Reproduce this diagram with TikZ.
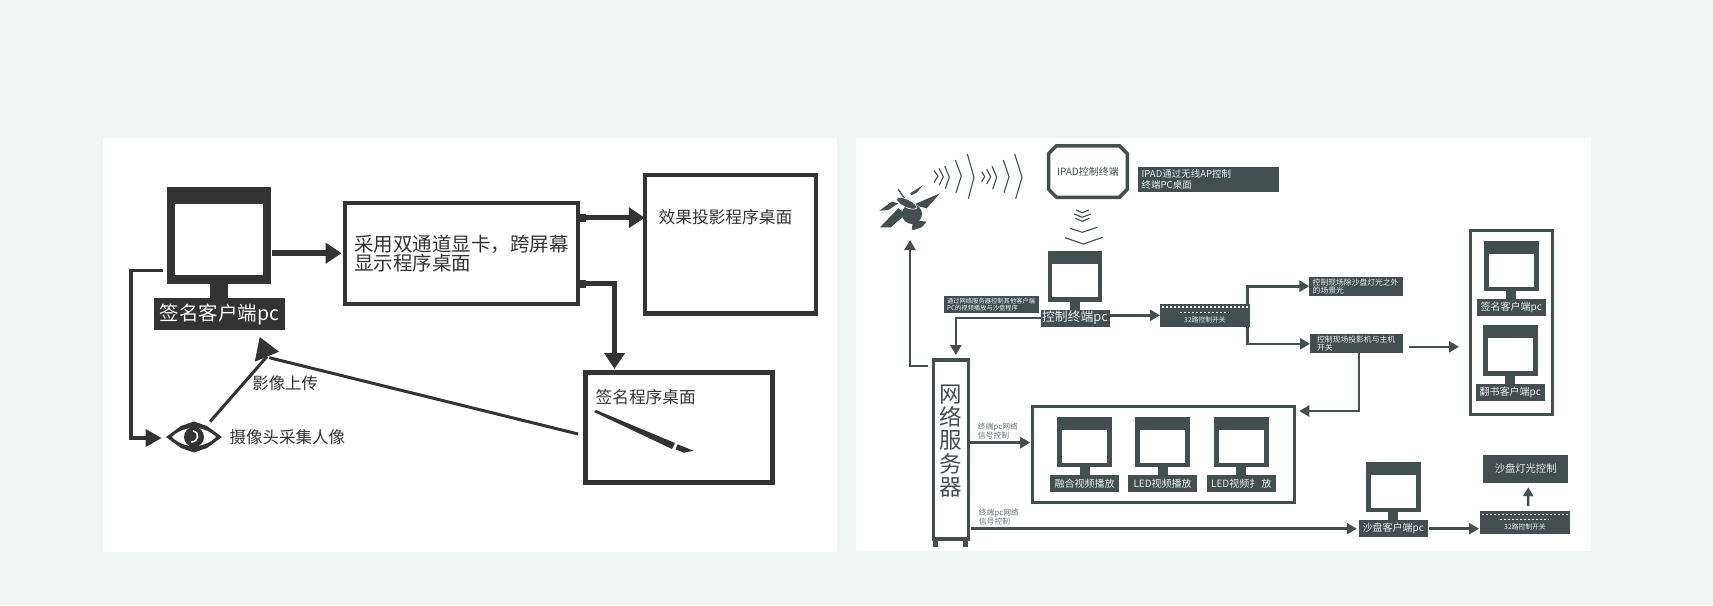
\documentclass[tikz,border=0pt]{standalone}
\usepackage{fontspec}
\setmainfont{Noto Sans CJK SC}
\usepackage{xcolor}
\usetikzlibrary{arrows.meta,calc,shapes.misc}
\definecolor{PageGray}{RGB}{241,245,244}
\definecolor{InkDark}{RGB}{51,51,51}
\definecolor{InkSlate}{RGB}{67,78,79}
\definecolor{NoteGray}{RGB}{105,115,116}
\definecolor{PaleText}{RGB}{236,240,240}
\tikzset{
  panel/.style={fill=white,draw=none},
  bigbox/.style={draw=InkDark,line width=4pt,fill=white,inner sep=0pt,outer sep=0pt},
  solidL/.style={fill=InkDark,draw=none,inner sep=0pt,outer sep=0pt},
  solidR/.style={fill=InkSlate,draw=none,inner sep=0pt,outer sep=0pt},
  blank/.style={fill=white,draw=none,inner sep=0pt,outer sep=0pt},
  bigtext/.style={text=InkDark,inner sep=0pt,outer sep=0pt,anchor=west},
  framebox/.style={draw=InkSlate,line width=3pt,fill=white,inner sep=0pt,outer sep=0pt},
  darklabel/.style={solidR,text=PaleText,align=left,inner ysep=0pt},
  marknote/.style={text=NoteGray,inner sep=0pt,anchor=west,align=left,
    font=\fontsize{7.8}{8}\selectfont},
  heavyarrow/.style={-{Triangle[length=16pt,width=20pt]},line width=6.5pt,draw=InkDark},
  heavystub/.style={line width=8pt,draw=InkDark},
  slimarrow/.style={-{Triangle[length=16pt,width=17pt]},line width=3.5pt,draw=InkDark},
  sharpline/.style={line width=3pt,draw=InkDark},
  flowarrow/.style={-{Triangle[length=10pt,width=11pt]},line width=2.6pt,draw=InkSlate},
  wavepen/.style={line width=1.1pt,draw=InkSlate},
}
% one small monitor: top left corner of the casing, then the caption
\newcommand{\pcunit}[4]{%
  \node[solidR,anchor=north west,minimum width=54.6pt,minimum height=50.2pt] (#1) at (#2,#3) {};
  \node[blank,minimum width=45.4pt,minimum height=33pt] (#1scr) at ($(#1.center)+(0,4.4)$) {};
  \node[solidR,anchor=north,minimum width=10pt,minimum height=8pt] (#1foot) at (#1.south) {};
  \node[solidR,text=PaleText,anchor=north,minimum width=69pt,minimum height=17pt,
    font=\fontsize{10}{11}\selectfont] (#1lbl) at (#1foot.south) {#4};
}
% switch block with its two rows of dots
\newcommand{\switchbar}[3]{%
  \node[solidR,text=PaleText,anchor=north west,minimum width=90pt,minimum height=22.6pt] (#1) at (#2,#3) {};
  \draw[white,line width=1.5pt,dash pattern=on 1.6pt off 2.4pt]
    ($(#1.north west)+(2,3)$) -- ($(#1.north east)+(-1,3)$);
  \draw[white,line width=1.5pt,dash pattern=on 1.6pt off 2.4pt]
    ($(#1.north)+(-25,8.3)$) -- ($(#1.north)+(24,8.3)$);
  \node[text=PaleText,inner sep=0pt,font=\fontsize{6.8}{7}\selectfont] (#1txt) at ($(#1.north)+(0,16)$) {32路控制开关};
}
\begin{document}
\begin{tikzpicture}[x=1pt,y=-1pt]
\useasboundingbox (0,0) rectangle (1713,605);
\fill[PageGray] (0,0) rectangle (1713,605);
\fill[panel] (102.5,138) rectangle (837,552);
\fill[panel] (855.5,138) rectangle (1591,551);

% left panel
\node[solidL,minimum width=104.2pt,minimum height=97pt] (monL) at (218.7,235.5) {};
\node[blank,minimum width=87.7pt,minimum height=71pt] (monLscr) at (219.2,239.5) {};
\node[solidL,minimum width=18pt,minimum height=14pt] (monLfoot) at (219,291) {};
\node[solidL,text=white,minimum width=131pt,minimum height=32pt,
  font=\fontsize{19.5}{20}\selectfont] (monLlbl) at (219.5,314) {签名客户端pc};
\node[bigbox,minimum width=232.6pt,minimum height=101pt,text width=214.6pt,inner xsep=9pt,
  align=left,text=InkDark,font=\fontsize{19.5}{19}\selectfont] (dual) at (461.3,253.2)
  {采用双通道显卡，跨屏幕\\显示程序桌面};
\node[bigbox,line width=4.5pt,minimum width=171.4pt,minimum height=138.8pt] (effect) at (730.5,244.3) {};
\node[bigtext,font=\fontsize{16.7}{17}\selectfont] (effecttxt) at (658.6,216.7) {效果投影程序桌面};
\node[bigbox,line width=5pt,minimum width=187.9pt,minimum height=110pt] (sign) at (679,427.5) {};
\node[bigtext,font=\fontsize{16.7}{17}\selectfont] (signtxt) at (595.6,396.7) {签名程序桌面};
\fill[InkDark] (594,412) -- (596,410) -- (675,443) -- (672,449) -- cycle;
\fill[InkDark] (677.5,444.3) -- (693.5,450.7) -- (683.8,452.7) -- (675.6,449.3) -- cycle;
\node[bigtext,font=\fontsize{16.5}{17}\selectfont] (eyetxt) at (229.6,437) {摄像头采集人像};
\node[bigtext,font=\fontsize{16.4}{17}\selectfont] (uptxt) at (252.4,383) {影像上传};

% eye
\coordinate (eye) at (194,437);
\fill[InkDark] ($(eye)+(-28,0)$) -- ($(eye)+(-13,-11)$) -- ($(eye)+(0,-15.5)$) -- ($(eye)+(13,-11)$)
  -- ($(eye)+(28,0)$) -- ($(eye)+(13,11)$) -- ($(eye)+(0,15.5)$) -- ($(eye)+(-13,11)$) -- cycle;
\fill[white] ($(eye)+(-22,0)$) .. controls ($(eye)+(-10,-12)$) and ($(eye)+(10,-12)$) .. ($(eye)+(22,0)$)
  .. controls ($(eye)+(10,12)$) and ($(eye)+(-10,12)$) .. cycle;
\fill[InkDark] (eye) circle (10);
\draw[white,line width=1.6pt] ($(eye)+(-1,-6)$) .. controls ($(eye)+(6,-5)$) and ($(eye)+(5,5)$) .. ($(eye)+(-3,5)$);

\coordinate (eyeup) at (210,421.7);
\coordinate (uptip) at (259.7,337);
\coordinate (upleft) at (254.8,361.7);
\coordinate (upright) at (279,351.7);
\coordinate (upjoin) at (269.3,357.7);
\coordinate (eyein) at (161.7,438);

\draw[heavyarrow,shorten <=1.5pt,shorten >=3.4pt] (monL.east |- dual.west) -- (dual.west);
\draw[heavystub] ($(dual.east)+(0,-35.5)$) -- ++(8,0);
\draw[heavyarrow,line width=5.5pt] ($(dual.east)+(0,-35.5)$) -- ($(effect.west)+(0,-26.6)$);
\draw[heavystub] ($(dual.east)+(0,30.3)$) -- ++(8,0);
\draw[heavyarrow,line width=5.5pt,shorten >=3.5pt] ($(dual.east)+(0,30.3)$) -| ($(sign.north)+(-64.5,0)$);
\draw[slimarrow] ($(monL.west)+(-3.9,35.2)$) -- ++(-31.8,0) |- (eyein);
\draw[sharpline] (eyeup) -- ($(upleft)!0.5!(upright)$);
\fill[InkDark] (uptip) -- (upright) -- (upleft) -- cycle;
\draw[sharpline] ($(sign.west)+(-7,6.5)$) -- (upjoin);

% right panel
\node[draw=InkSlate,line width=3.5pt,fill=white,chamfered rectangle,chamfered rectangle xsep=4pt,
  chamfered rectangle ysep=4pt,inner sep=0pt,outer sep=0pt,minimum width=78.8pt,minimum height=51.5pt,
  text=InkSlate,font=\fontsize{10}{11}\selectfont] (ipad) at (1087.9,171.5) {IPAD控制终端};
\node[darklabel,minimum width=141pt,minimum height=24.7pt,text width=133.6pt,inner xsep=3.7pt,
  font=\fontsize{9.5}{11}\selectfont] (ipadnote) at (1208.5,179.35) {IPAD通过无线AP控制\\终端PC桌面};

% satellite and waves
\coordinate (sat) at (912,214);
\fill[InkSlate] (sat) circle (10);
\fill[InkSlate] (915,204) -- (940,193.3) -- (926.7,208.3) -- (920,206.7) -- cycle;
\fill[InkSlate] (880,227.3) -- (898.3,208.3) -- (906,214) -- (890.7,227.3) -- cycle;
\fill[InkSlate] (910,193.3) -- (923.3,185) -- (916.7,192.7) -- (911.7,195) -- cycle;
\fill[InkSlate] (879.3,210.7) -- (891.7,201.7) -- (898.3,203.3) -- (888.3,210) -- cycle;
\fill[InkSlate] (911.7,229.3) -- (912.7,223.3) -- (918.3,220.7) -- (926.7,221.7) -- (921.7,227.3) -- (913.3,230) -- cycle;
\draw[InkSlate,line width=1.3pt] (898.3,189.3) -- (905,199.3);
\draw[white,fill=InkSlate,line width=0.7pt,rotate around={-25:(906.7,203.3)}] (906.7,203.3) ellipse (11 and 4);
\draw[wavepen] (934,170.7) -- (938,176) -- (934,182.7)
  (939,168.3) -- (943.3,176.7) -- (939.3,185)
  (944.7,166) -- (949.3,177.3) -- (945.3,188.7)
  (955.3,160) -- (961.3,176) -- (956,192.7)
  (967.3,154) -- (974,177.3) -- (968.3,198.7)
  (981.7,171.7) -- (984.7,176.7) -- (981.7,181.7)
  (986.7,169.3) -- (990.7,176.7) -- (986.7,184)
  (992,166) -- (996.7,177.3) -- (992.7,189.3)
  (1003.3,160) -- (1009,176.7) -- (1004,192.7)
  (1014.7,154) -- (1022,177.3) -- (1015.7,198.7);
\draw[wavepen] (1076,210) -- (1082.3,212.7) -- (1088.7,210)
  (1074,214) -- (1082.3,217.3) -- (1090.7,214)
  (1075.3,218.3) -- (1082.3,221.3) -- (1089.3,218.3)
  (1070,228.3) -- (1082.3,232.3) -- (1097.3,227.3)
  (1065,237.7) -- (1083.3,244) -- (1102.7,237.3);

\pcunit{ctrl}{1047.7}{251.3}{\fontsize{12.8}{14}\selectfont 控制终端pc}
\node[darklabel,minimum width=95pt,minimum height=17.6pt,text width=89.6pt,inner xsep=2.7pt,
  font=\fontsize{6.3}{7.6}\selectfont] (servernote) at (991.8,304.5)
  {通过网络服务器控制其他客户端\\PC的视频播放与沙盘程序};
\switchbar{swA}{1160}{304}
\node[darklabel,minimum width=93.4pt,minimum height=19pt,text width=86.6pt,inner xsep=3.4pt,
  font=\fontsize{7.8}{7.6}\selectfont] (lampnote) at (1356,286.2) {控制现场除沙盘灯光之外\\的场景光};
\node[darklabel,minimum width=93.3pt,minimum height=19pt,text width=79pt,inner xsep=7.15pt,
  font=\fontsize{7.8}{7.6}\selectfont] (hostnote) at (1356.65,343.8) {控制现场投影机与主机\\开关};

\node[framebox,minimum width=82pt,minimum height=183.4pt] (group) at (1511.8,322.5) {};
\pcunit{sign}{1484}{240.7}{签名客户端pc}
\pcunit{book}{1483}{325.3}{翻书客户端pc}

\node[solidR,minimum width=5pt,minimum height=6pt] (footA) at (935.8,543.5) {};
\node[solidR,minimum width=5pt,minimum height=6pt] (footB) at (965.2,543.5) {};
\node[draw=InkSlate,line width=3.5pt,fill=white,inner sep=0pt,outer sep=0pt,
  minimum width=35pt,minimum height=179pt] (server) at (950.85,449.5) {};
\node[text=InkSlate,inner sep=0pt,align=center,font=\fontsize{22.5}{23.4}\selectfont] (servertxt)
  at (950.7,441) {网\\络\\服\\务\\器};

\node[framebox,minimum width=262.3pt,minimum height=96.3pt] (wall) at (1163.35,454.65) {};
\pcunit{blend}{1057.3}{416.7}{融合视频播放}
\pcunit{ledA}{1135.3}{416.7}{LED视频播放}
\pcunit{ledB}{1214}{416.7}{LED视频扌 放}
\node[marknote] (markA) at (977.7,430.7) {终端pc网络\\信号控制};
\node[marknote] (markB) at (978.7,516.9) {终端pc网络\\信号控制};

\pcunit{sand}{1366}{462}{沙盘客户端pc}
\switchbar{swB}{1480}{511.3}
\node[solidR,text=PaleText,minimum width=84.7pt,minimum height=27.7pt,
  font=\fontsize{10.3}{11}\selectfont] (light) at (1525.65,468.85) {沙盘灯光控制};

\coordinate (satbase) at (910,240);
\coordinate (wallin) at ($(wall.west)+(0,-12)$);
\draw[flowarrow] (ctrllbl.east |- swA.west) -- (swA.west);
\draw[flowarrow,shorten >=5pt] (ctrllbl.west) -| ($(server.north)+(5,0)$);
\draw[flowarrow] ($(server.north west)+(-5.5,6)$) -| (satbase);
\draw[flowarrow] ($(swA.north east)+(-2.3,0)$) |- (lampnote.west);
\draw[flowarrow] ($(swA.south east)+(-2.3,0)$) |- (hostnote.west);
\draw[flowarrow,shorten <=6pt,shorten >=11.8pt] ($(hostnote.east)+(0,3)$) -- ($(group.west |- hostnote.east)+(0,3)$);
\draw[flowarrow,shorten >=4.8pt] ($(hostnote.south)+(2.4,0)$) |- ($(wall.north east)+(0,4.5)$);
\draw[flowarrow,shorten <=2pt,shorten >=2pt] (server.east |- wallin) -- (wallin);
\draw[flowarrow,shorten <=2.5pt,shorten >=2pt] (server.east |- sandlbl.west) -- (sandlbl.west);
\draw[flowarrow,shorten <=1pt,shorten >=1pt] (sandlbl.east) -- (swB.west |- sandlbl.east);
\draw[flowarrow,-{Triangle[length=9pt,width=10pt]},shorten <=5.3pt,shorten >=4.5pt] ($(swB.north)+(3,0)$) -- ($(light.south)+(2.7,0)$);
\end{tikzpicture}
\end{document}
